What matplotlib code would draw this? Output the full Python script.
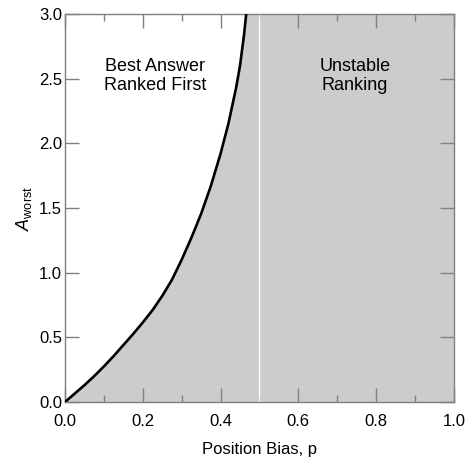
import matplotlib
matplotlib.use("Agg")
import matplotlib.pyplot as plt
from matplotlib.ticker import MultipleLocator, FormatStrFormatter

plt.rcParams['font.family'] = ['Liberation Sans', 'DejaVu Sans']
plt.rcParams['mathtext.fontset'] = 'custom'
plt.rcParams['mathtext.rm'] = 'Liberation Sans'
plt.rcParams['mathtext.it'] = 'Liberation Sans:italic'

# Data
p_vals = [0.0, 0.025, 0.05, 0.075, 0.10, 0.125, 0.15, 0.175, 0.20, 0.225, 0.25,
          0.275, 0.30, 0.325, 0.35, 0.375, 0.40, 0.42, 0.44, 0.45, 0.46, 0.466]
a_worst = [0.0, 0.065, 0.13, 0.20, 0.275, 0.355, 0.44, 0.525, 0.615, 0.71, 0.82,
           0.945, 1.10, 1.27, 1.455, 1.67, 1.92, 2.15, 2.43, 2.60, 2.83, 3.0]
region_labels = ["Best Answer\nRanked First", "Unstable\nRanking"]
x_max = 1.0
y_max = 3.0
unstable_p = 0.5

fig = plt.figure(figsize=(4.66, 4.58), dpi=100)
ax = fig.add_axes([0.1395, 0.1223, 0.974 - 0.1395, 0.9694 - 0.1223])

fill_x = p_vals + [x_max]
fill_y = a_worst + [y_max]
ax.fill_between(fill_x, 0, fill_y, color='#cccccc', lw=0, zorder=1)
ax.axvline(unstable_p, color='white', lw=1.0, zorder=2)
ax.plot(p_vals, a_worst, color='black', lw=1.9, zorder=3, solid_capstyle='butt',
        solid_joinstyle='round')

ax.text(0.232, 2.52, region_labels[0], ha='center', va='center', fontsize=13)
ax.text(0.745, 2.52, region_labels[1], ha='center', va='center', fontsize=13)

ax.set_xlim(0, x_max)
ax.set_ylim(0, y_max)
ax.xaxis.set_major_locator(MultipleLocator(0.2))
ax.xaxis.set_minor_locator(MultipleLocator(0.1))
ax.yaxis.set_major_locator(MultipleLocator(0.5))
ax.xaxis.set_major_formatter(FormatStrFormatter('%.1f'))
ax.yaxis.set_major_formatter(FormatStrFormatter('%.1f'))

for s in ax.spines.values():
    s.set_color('#808080')
    s.set_linewidth(1.0)
ax.tick_params(which='major', direction='in', length=10, width=1, color='#808080',
               top=True, right=True, labelsize=12, labelcolor='black')
ax.tick_params(which='minor', direction='in', length=5, width=1, color='#808080',
               top=True, right=True)
ax.tick_params(axis='x', pad=9)
ax.tick_params(axis='y', pad=2)

ax.set_xlabel('Position Bias, p', fontsize=12, labelpad=9)
ax.set_ylabel(r'$A_{\mathrm{worst}}$', fontsize=13, labelpad=4)

fig.savefig('out.png', dpi=100)
